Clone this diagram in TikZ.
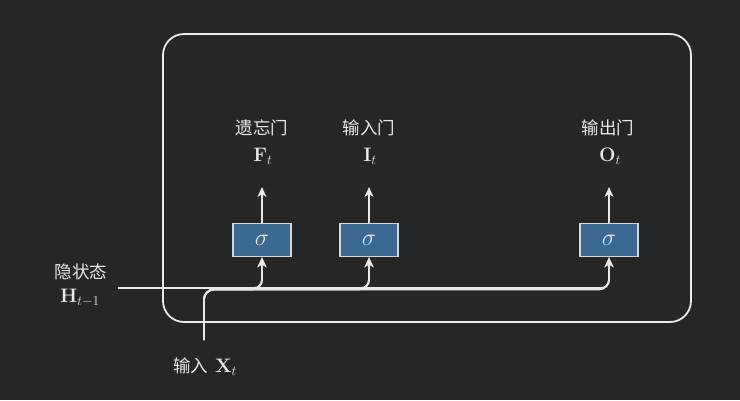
\RequirePackage{fix-cm}
\documentclass[tikz,border=0pt]{standalone}
\usepackage[no-math]{fontspec}
\setmainfont{Noto Sans CJK SC}
\usetikzlibrary{arrows.meta}
\definecolor{bgc}{HTML}{252628}
\definecolor{linec}{HTML}{E8E8E8}
\definecolor{boxfill}{HTML}{3A6A91}
\definecolor{boxline}{HTML}{D6D6D6}
\begin{document}
\begin{tikzpicture}[x=1pt,y=-1pt,
  wire/.style={draw=linec,line width=1.8pt},
  arr/.style={wire,-{Stealth[length=10pt,width=9pt,inset=3pt]}},
  gatebox/.style={draw=boxline,fill=boxfill,line width=1.6pt,minimum width=58pt,minimum height=33pt,inner sep=0pt,text=linec,font=\fontsize{24}{26}\selectfont},
  cjk/.style={text=linec,inner sep=0pt,font=\fontsize{17.5}{20}\selectfont},
  mth/.style={text=linec,inner sep=0pt,font=\fontsize{19.5}{22}\selectfont}
]
\fill[bgc] (0,0) rectangle (740,400);
\useasboundingbox (0,0) rectangle (740,400);
\draw[wire,rounded corners=21pt] (163,34) rectangle (691,322);
\node[gatebox] (gF) at (262,240) {$\sigma$};
\node[gatebox] (gI) at (369,240) {$\sigma$};
\node[gatebox] (gO) at (609,240) {$\sigma$};
\node[cjk] (tF) at (262,128) {遗忘门};
\node[cjk] (tI) at (369,128) {输入门};
\node[cjk] (tO) at (608,128) {输出门};
\node[mth] (mF) at (263,156) {$\mathbf{F}_t$};
\node[mth] (mI) at (370,156) {$\mathbf{I}_t$};
\node[mth] (mO) at (610,156) {$\mathbf{O}_t$};
\coordinate (aF) at (262,187);
\coordinate (aI) at (369,187);
\coordinate (aO) at (609,187);
\draw[arr] (gF.north) -- (aF);
\draw[arr] (gI.north) -- (aI);
\draw[arr] (gO.north) -- (aO);
\node[cjk] (hL) at (81,272) {隐状态};
\node[mth] (hM) at (80,298) {$\mathbf{H}_{t-1}$};
\node[text=linec,inner sep=0pt] (xL) at (205,367) {\fontsize{17.5}{20}\selectfont 输入\hspace{7pt}\fontsize{19.5}{22}\selectfont$\mathbf{X}_t$};
\coordinate (hs) at (118,288);
\coordinate (xs) at (204,340);
\coordinate (bus) at (0,289.5);
\draw[arr,rounded corners=8pt] (hs) -| (gF.south);
\draw[arr,rounded corners=8pt] (hs) -| (gI.south);
\draw[arr,rounded corners=8pt] (hs) -| (gO.south);
\draw[arr,rounded corners=10pt] (xs) |- (gF.south |- bus) -- (gF.south);
\draw[arr,rounded corners=10pt] (xs) |- (gI.south |- bus) -- (gI.south);
\draw[arr,rounded corners=10pt] (xs) |- (gO.south |- bus) -- (gO.south);
\end{tikzpicture}
\end{document}
